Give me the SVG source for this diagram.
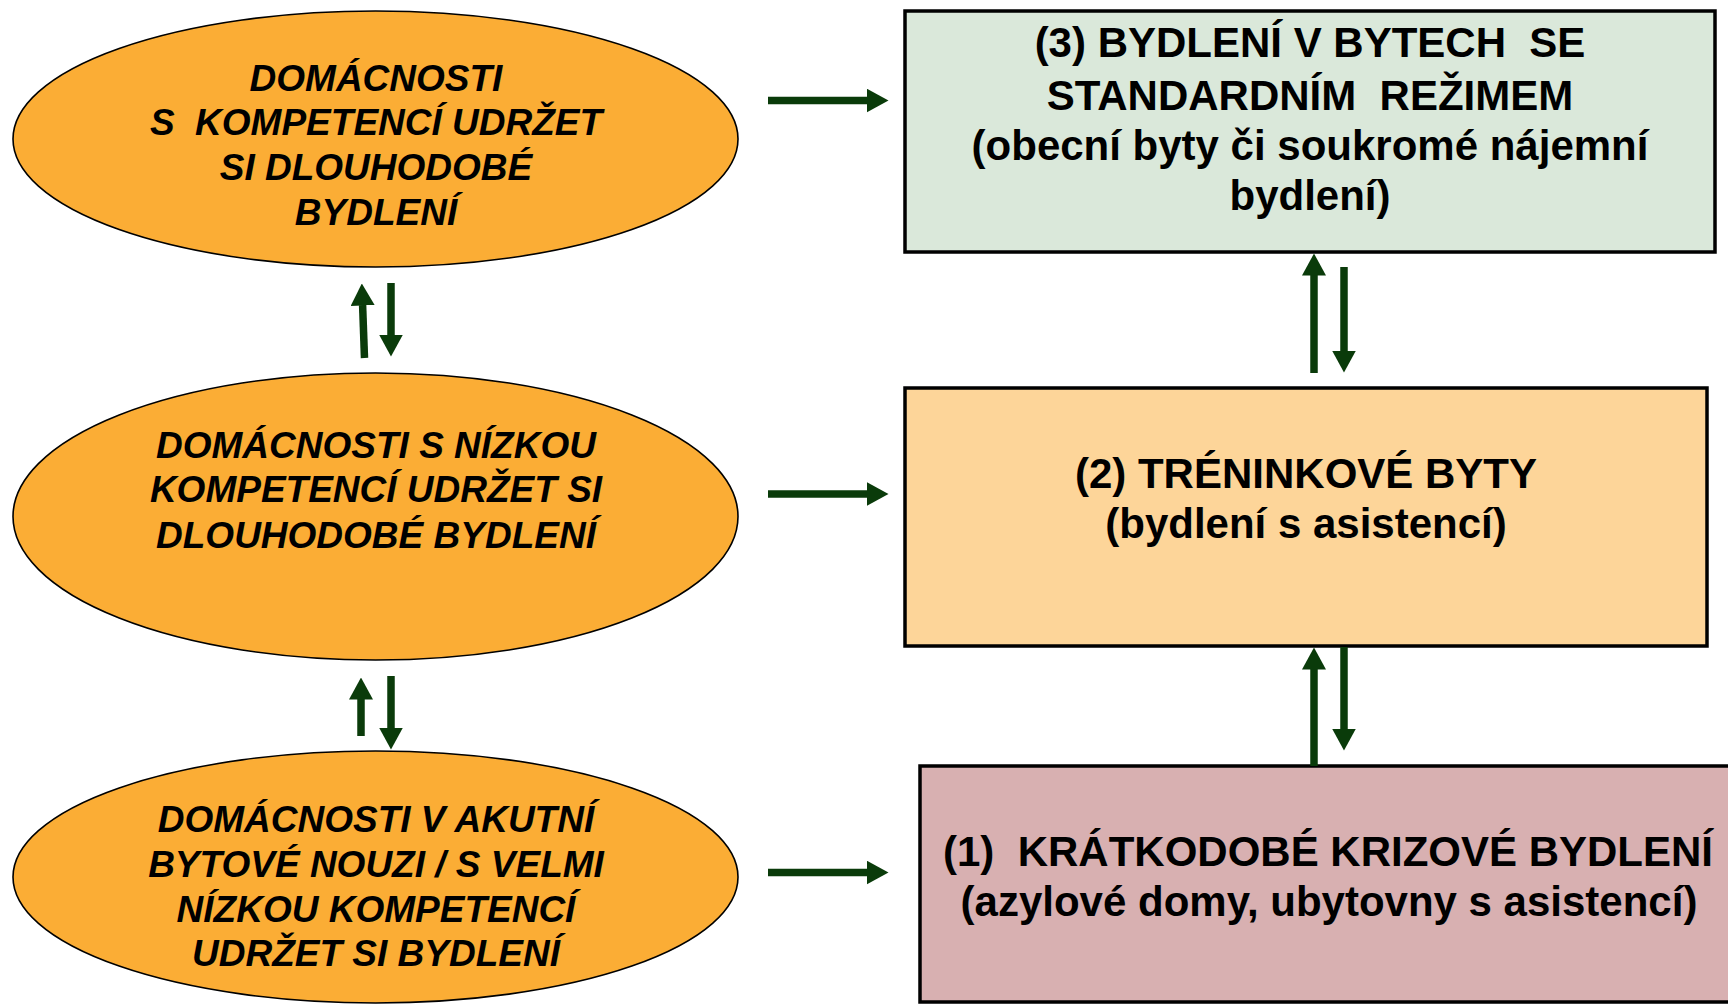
<svg xmlns="http://www.w3.org/2000/svg" width="1728" height="1004" viewBox="0 0 1728 1004">
<style>
.ell{fill:#fbad35;stroke:#000;stroke-width:1.6}
.box{stroke:#000;stroke-width:3.5}
text{white-space:pre}
.et{font-family:"Liberation Sans",Arial,sans-serif;font-weight:bold;font-style:italic;font-size:37px;text-anchor:middle;fill:#000}
.bt{font-family:"Liberation Sans",Arial,sans-serif;font-weight:bold;font-size:42px;text-anchor:middle;fill:#000}
.arr{stroke:#0a3b0a;stroke-width:7.5;fill:none;marker-end:url(#ah)}
</style>
<defs>
<marker id="ah" viewBox="0 0 22 24" refX="0.5" refY="12" markerWidth="22" markerHeight="24" markerUnits="userSpaceOnUse" orient="auto">
<path d="M0,0 L22,12 L0,24 Z" fill="#0a3b0a"/>
</marker>
</defs>
<rect width="1728" height="1004" fill="#fff"/>
<g id="ellipse-top">
<ellipse class="ell" cx="375.5" cy="139" rx="362.5" ry="128"/>
<text class="et" xml:space="preserve"><tspan x="376" y="91">DOMÁCNOSTI</tspan><tspan x="376" y="135">S  KOMPETENCÍ UDRŽET</tspan><tspan x="376" y="180">SI DLOUHODOBÉ</tspan><tspan x="376" y="225">BYDLENÍ</tspan></text>
</g>
<g id="ellipse-middle">
<ellipse class="ell" cx="375.5" cy="516.5" rx="362.5" ry="143.5"/>
<text class="et"><tspan x="376" y="458">DOMÁCNOSTI S NÍZKOU</tspan><tspan x="376" y="502">KOMPETENCÍ UDRŽET SI</tspan><tspan x="376" y="548">DLOUHODOBÉ BYDLENÍ</tspan></text>
</g>
<g id="ellipse-bottom">
<ellipse class="ell" cx="375.5" cy="877" rx="362.5" ry="126"/>
<text class="et"><tspan x="376" y="832">DOMÁCNOSTI V AKUTNÍ</tspan><tspan x="376" y="877">BYTOVÉ NOUZI / S VELMI</tspan><tspan x="376" y="922">NÍZKOU KOMPETENCÍ</tspan><tspan x="376" y="966">UDRŽET SI BYDLENÍ</tspan></text>
</g>
<g id="box-3">
<rect class="box" x="905" y="11" width="810" height="241" fill="#dae8da"/>
<text class="bt" xml:space="preserve"><tspan x="1310" y="57">(3) BYDLENÍ V BYTECH  SE</tspan><tspan x="1310" y="110">STANDARDNÍM  REŽIMEM</tspan><tspan x="1310" y="160">(obecní byty či soukromé nájemní</tspan><tspan x="1310" y="210">bydlení)</tspan></text>
</g>
<g id="box-2">
<rect class="box" x="905" y="388" width="802" height="258" fill="#fdd599"/>
<text class="bt"><tspan x="1306" y="488">(2) TRÉNINKOVÉ BYTY</tspan><tspan x="1306" y="538">(bydlení s asistencí)</tspan></text>
</g>
<g id="box-1">
<rect class="box" x="920" y="766" width="830" height="236" fill="#d8b0b1"/>
<text class="bt" xml:space="preserve"><tspan x="1328" y="866">(1)  KRÁTKODOBÉ KRIZOVÉ BYDLENÍ</tspan><tspan x="1329" y="916">(azylové domy, ubytovny s asistencí)</tspan></text>
</g>
<g id="connectors">
<path class="arr" d="M768,100.5 H867"/>
<path class="arr" d="M768,494 H867"/>
<path class="arr" d="M768,872.5 H867"/>
<path class="arr" d="M1314,373 V275"/>
<path class="arr" d="M1344,267 V351"/>
<path class="arr" d="M1314,766 V669"/>
<path class="arr" d="M1344,647 V729"/>
<path class="arr" d="M364.5,358 L362.6,305"/>
<path class="arr" d="M391,283 V335"/>
<path class="arr" d="M361,736 V699"/>
<path class="arr" d="M391,676 V728"/>
</g>
</svg>
